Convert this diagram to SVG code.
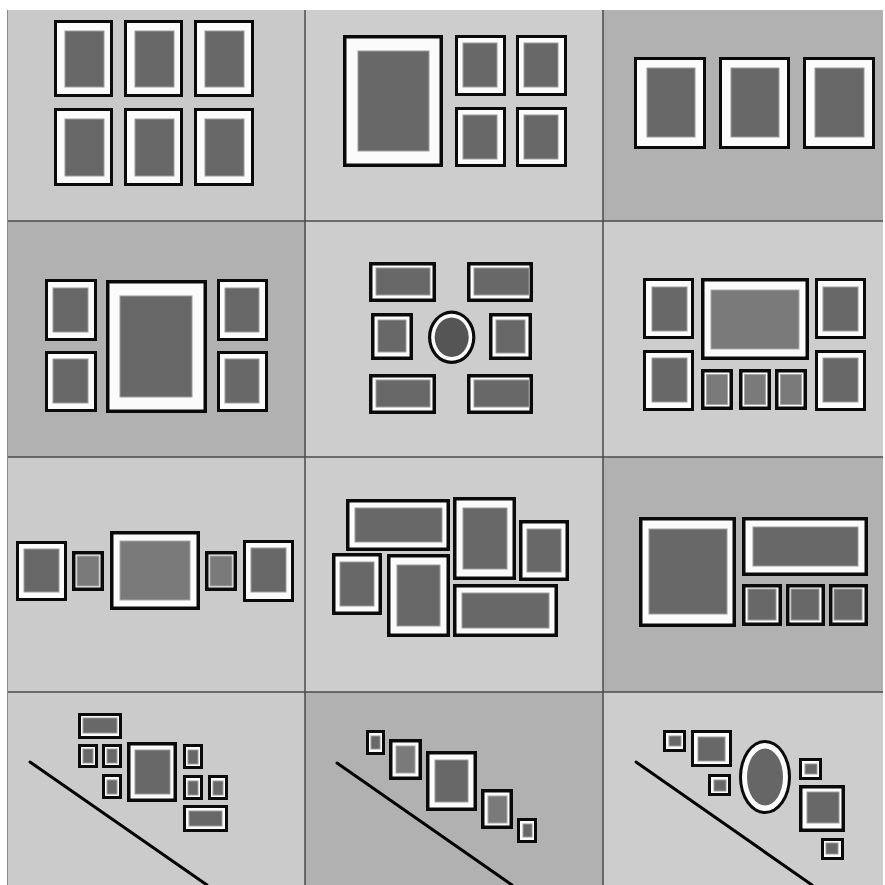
<svg xmlns="http://www.w3.org/2000/svg" width="885" height="885" viewBox="0 0 885 885">
<style>
.L{fill:#cbcbcb}.D{fill:#b1b1b1}
.k{fill:#0a0a0a}.w{fill:#fbfbfb}
.p{fill:#686868;stroke:#9c9c9c;stroke-width:1}
.q{fill:#7a7a7a;stroke:#a8a8a8;stroke-width:1}
.g{stroke:#4a4a4a;stroke-width:1.5;fill:none}
.wall{stroke:#000;stroke-width:3;fill:none;stroke-linecap:round}
</style>
<rect width="885" height="885" fill="#ffffff"/>
<g id="panels">
<rect class="L" x="7" y="10" width="298" height="211" style="fill:#c9c9c9"/>
<rect class="L" x="305" y="10" width="298" height="211" style="fill:#cdcdcd"/>
<rect class="D" x="603" y="10" width="280" height="211"/>
<rect class="D" x="7" y="221" width="298" height="236"/>
<rect class="L" x="305" y="221" width="298" height="236" style="fill:#cdcdcd"/>
<rect class="L" x="603" y="221" width="280" height="236" style="fill:#cdcdcd"/>
<rect class="L" x="7" y="457" width="298" height="235"/>
<rect class="L" x="305" y="457" width="298" height="235" style="fill:#cdcdcd"/>
<rect class="D" x="603" y="457" width="280" height="235"/>
<rect class="L" x="7" y="692" width="298" height="193"/>
<rect class="D" x="305" y="692" width="298" height="193"/>
<rect class="L" x="603" y="692" width="280" height="193" style="fill:#cdcdcd"/>
</g>
<g id="grid">
<line class="g" x1="305" y1="10" x2="305" y2="885"/>
<line class="g" x1="603" y1="10" x2="603" y2="885"/>
<line class="g" x1="7" y1="221" x2="883" y2="221"/>
<line class="g" x1="7" y1="457" x2="883" y2="457"/>
<line class="g" x1="7" y1="692" x2="883" y2="692"/>
<line x1="7.5" y1="10" x2="7.5" y2="885" stroke="#8a8a8a" stroke-width="1"/>
</g>
<g id="p1">
<g id="p1f1"><rect class="k" x="54" y="20" width="59" height="77"/><rect class="w" x="57" y="23" width="53" height="71"/><rect class="p" x="65" y="31" width="39" height="56"/></g>
<g id="p1f2"><rect class="k" x="124" y="20" width="59" height="77"/><rect class="w" x="127" y="23" width="53" height="71"/><rect class="p" x="135" y="31" width="39" height="56"/></g>
<g id="p1f3"><rect class="k" x="194" y="20" width="60" height="77"/><rect class="w" x="197" y="23" width="54" height="71"/><rect class="p" x="205" y="31" width="39" height="56"/></g>
<g id="p1f4"><rect class="k" x="54" y="108" width="59" height="78"/><rect class="w" x="57" y="111" width="53" height="72"/><rect class="p" x="65" y="119" width="39" height="57"/></g>
<g id="p1f5"><rect class="k" x="124" y="108" width="59" height="78"/><rect class="w" x="127" y="111" width="53" height="72"/><rect class="p" x="135" y="119" width="39" height="57"/></g>
<g id="p1f6"><rect class="k" x="194" y="108" width="60" height="78"/><rect class="w" x="197" y="111" width="54" height="72"/><rect class="p" x="205" y="119" width="39" height="57"/></g>
</g>
<g id="p2">
<g id="p2big"><rect class="k" x="343" y="35" width="100" height="132"/><rect class="w" x="346.5" y="38.5" width="93" height="125"/><rect class="p" x="358" y="51" width="71" height="100"/></g>
<g id="p2s1"><rect class="k" x="455" y="35" width="51" height="61"/><rect class="w" x="458" y="38" width="45" height="55"/><rect class="p" x="463" y="43" width="34" height="44"/></g>
<g id="p2s2"><rect class="k" x="516" y="35" width="51" height="61"/><rect class="w" x="519" y="38" width="45" height="55"/><rect class="p" x="524" y="43" width="34" height="44"/></g>
<g id="p2s3"><rect class="k" x="455" y="107" width="51" height="60"/><rect class="w" x="458" y="110" width="45" height="54"/><rect class="p" x="463" y="115" width="34" height="44"/></g>
<g id="p2s4"><rect class="k" x="516" y="107" width="51" height="60"/><rect class="w" x="519" y="110" width="45" height="54"/><rect class="p" x="524" y="115" width="34" height="44"/></g>
</g>
<g id="p3">
<g id="p3f1"><rect class="k" x="634" y="57" width="72" height="92"/><rect class="w" x="637" y="60" width="66" height="86"/><rect class="p" x="647" y="68" width="48" height="69"/></g>
<g id="p3f2"><rect class="k" x="719" y="57" width="71" height="92"/><rect class="w" x="722" y="60" width="65" height="86"/><rect class="p" x="731" y="68" width="48" height="69"/></g>
<g id="p3f3"><rect class="k" x="803" y="57" width="72" height="92"/><rect class="w" x="806" y="60" width="66" height="86"/><rect class="p" x="815" y="68" width="49" height="69"/></g>
</g>
<g id="p4">
<g id="p4tl"><rect class="k" x="45" y="279" width="52" height="62"/><rect class="w" x="48" y="282" width="46" height="56"/><rect class="p" x="53" y="288" width="35" height="44"/></g>
<g id="p4bl"><rect class="k" x="45" y="351" width="52" height="61"/><rect class="w" x="48" y="354" width="46" height="55"/><rect class="p" x="53" y="359" width="35" height="44"/></g>
<g id="p4big"><rect class="k" x="106" y="280" width="101" height="133"/><rect class="w" x="109.5" y="283.5" width="94" height="126"/><rect class="p" x="120" y="296" width="72" height="101"/></g>
<g id="p4tr"><rect class="k" x="217" y="279" width="51" height="62"/><rect class="w" x="220" y="282" width="45" height="56"/><rect class="p" x="225" y="288" width="34" height="44"/></g>
<g id="p4br"><rect class="k" x="217" y="351" width="51" height="61"/><rect class="w" x="220" y="354" width="45" height="55"/><rect class="p" x="225" y="359" width="34" height="44"/></g>
</g>
<g id="p5">
<g id="p5tl"><rect class="k" x="369" y="262" width="67" height="40"/><rect class="w" x="372.5" y="265.5" width="60" height="33"/><rect class="p" x="376" y="268" width="54" height="27"/></g>
<g id="p5tr"><rect class="k" x="467" y="262" width="66" height="40"/><rect class="w" x="470.5" y="265.5" width="59" height="33"/><rect class="p" x="474" y="268" width="55" height="27"/></g>
<g id="p5ml"><rect class="k" x="371" y="313" width="42" height="47"/><rect class="w" x="374.5" y="316.5" width="35" height="40"/><rect class="p" x="378" y="320" width="28" height="32"/></g>
<g id="p5oval"><ellipse cx="451.7" cy="337.3" rx="23.7" ry="26.7" fill="#0a0a0a"/><ellipse cx="451.7" cy="337.3" rx="20.5" ry="23.5" fill="#fbfbfb"/><ellipse cx="451.7" cy="337.3" rx="17" ry="19.7" fill="#555"/></g>
<g id="p5mr"><rect class="k" x="489" y="313" width="43" height="47"/><rect class="w" x="492.5" y="316.5" width="36" height="40"/><rect class="p" x="496" y="320" width="29" height="33"/></g>
<g id="p5bl"><rect class="k" x="369" y="374" width="67" height="40"/><rect class="w" x="372.5" y="377.5" width="60" height="33"/><rect class="p" x="376" y="380" width="54" height="27"/></g>
<g id="p5br"><rect class="k" x="467" y="374" width="66" height="40"/><rect class="w" x="470.5" y="377.5" width="59" height="33"/><rect class="p" x="474" y="380" width="55" height="27"/></g>
</g>
<g id="p6">
<g id="p6tl"><rect class="k" x="643" y="278" width="51" height="61"/><rect class="w" x="646" y="281" width="45" height="55"/><rect class="p" x="652" y="287" width="35" height="44"/></g>
<g id="p6big"><rect class="k" x="701" y="278" width="108" height="82"/><rect class="w" x="704.5" y="281.5" width="101" height="75"/><rect class="q" x="711" y="290" width="88" height="59"/></g>
<g id="p6tr"><rect class="k" x="815" y="278" width="51" height="61"/><rect class="w" x="818" y="281" width="45" height="55"/><rect class="p" x="823" y="287" width="35" height="44"/></g>
<g id="p6bl"><rect class="k" x="643" y="350" width="51" height="61"/><rect class="w" x="646" y="353" width="45" height="55"/><rect class="p" x="652" y="358" width="35" height="44"/></g>
<g id="p6s1"><rect class="k" x="701" y="369" width="32" height="41"/><rect class="w" x="704.5" y="372.5" width="25" height="34"/><rect class="q" x="706.5" y="374.5" width="21" height="30"/></g>
<g id="p6s2"><rect class="k" x="739" y="369" width="32" height="41"/><rect class="w" x="742.5" y="372.5" width="25" height="34"/><rect class="q" x="744.5" y="374.5" width="21" height="30"/></g>
<g id="p6s3"><rect class="k" x="775" y="369" width="32" height="41"/><rect class="w" x="778.5" y="372.5" width="25" height="34"/><rect class="q" x="780.5" y="374.5" width="21" height="30"/></g>
<g id="p6br"><rect class="k" x="815" y="350" width="51" height="61"/><rect class="w" x="818" y="353" width="45" height="55"/><rect class="p" x="823" y="358" width="35" height="44"/></g>
</g>
<g id="p7">
<g id="p7f1"><rect class="k" x="16" y="541" width="51" height="60"/><rect class="w" x="19" y="544" width="45" height="54"/><rect class="p" x="24" y="549" width="35" height="43"/></g>
<g id="p7f2"><rect class="k" x="72" y="551" width="32" height="40"/><rect class="w" x="75.5" y="554.5" width="25" height="33"/><rect class="q" x="77" y="556" width="22" height="30"/></g>
<g id="p7big"><rect class="k" x="110" y="531" width="90" height="79"/><rect class="w" x="113.5" y="534.5" width="83" height="72"/><rect class="q" x="120" y="541" width="70" height="59"/></g>
<g id="p7f4"><rect class="k" x="205" y="551" width="32" height="40"/><rect class="w" x="208.5" y="554.5" width="25" height="33"/><rect class="q" x="210" y="556" width="22" height="30"/></g>
<g id="p7f5"><rect class="k" x="243" y="540" width="51" height="62"/><rect class="w" x="246" y="543" width="45" height="56"/><rect class="p" x="251" y="548" width="35" height="44"/></g>
</g>
<g id="p8">
<g id="p8a"><rect class="k" x="346" y="499" width="104" height="52"/><rect class="w" x="349.5" y="502.5" width="97" height="45"/><rect class="p" x="355" y="508" width="87" height="34"/></g>
<g id="p8b"><rect class="k" x="453" y="497" width="63" height="83"/><rect class="w" x="456.5" y="500.5" width="56" height="76"/><rect class="p" x="463" y="508" width="44" height="61"/></g>
<g id="p8c"><rect class="k" x="519" y="520" width="50" height="61"/><rect class="w" x="522.5" y="523.5" width="43" height="54"/><rect class="p" x="527" y="529" width="34" height="43"/></g>
<g id="p8d"><rect class="k" x="332" y="553" width="50" height="62"/><rect class="w" x="335.5" y="556.5" width="43" height="55"/><rect class="p" x="340" y="562" width="34" height="44"/></g>
<g id="p8e"><rect class="k" x="387" y="554" width="63" height="83"/><rect class="w" x="390.5" y="557.5" width="56" height="76"/><rect class="p" x="397" y="565" width="43" height="61"/></g>
<g id="p8f"><rect class="k" x="453" y="584" width="105" height="53"/><rect class="w" x="456.5" y="587.5" width="98" height="46"/><rect class="p" x="462" y="593" width="87" height="35"/></g>
</g>
<g id="p9">
<g id="p9big"><rect class="k" x="639" y="517" width="97" height="110"/><rect class="w" x="642.5" y="520.5" width="90" height="103"/><rect class="p" x="649" y="529" width="78" height="85"/></g>
<g id="p9wide"><rect class="k" x="742" y="517" width="126" height="59"/><rect class="w" x="745.5" y="520.5" width="119" height="52"/><rect class="p" x="753" y="527" width="105" height="39"/></g>
<g id="p9s1"><rect class="k" x="742" y="584" width="40" height="42"/><rect class="w" x="745.5" y="587.5" width="33" height="35"/><rect class="p" x="748" y="589" width="28" height="31"/></g>
<g id="p9s2"><rect class="k" x="786" y="584" width="39" height="42"/><rect class="w" x="789.5" y="587.5" width="32" height="35"/><rect class="p" x="791" y="589" width="28" height="31"/></g>
<g id="p9s3"><rect class="k" x="829" y="584" width="39" height="42"/><rect class="w" x="832.5" y="587.5" width="32" height="35"/><rect class="p" x="834" y="589" width="28" height="31"/></g>
</g>
<g id="p10">
<line class="wall" x1="30" y1="762" x2="207" y2="885"/>
<g id="p10a"><rect class="k" x="78" y="713" width="44" height="26"/><rect class="w" x="81" y="716" width="38" height="20"/><rect class="p" x="83" y="718" width="34" height="15"/></g>
<g id="p10b"><rect class="k" x="78" y="744" width="20" height="24"/><rect class="w" x="81" y="747" width="14" height="18"/><rect class="p" x="83" y="749" width="10" height="14"/></g>
<g id="p10c"><rect class="k" x="102" y="744" width="20" height="24"/><rect class="w" x="105" y="747" width="14" height="18"/><rect class="p" x="107" y="749" width="10" height="14"/></g>
<g id="p10d"><rect class="k" x="102" y="774" width="20" height="25"/><rect class="w" x="105" y="777" width="14" height="19"/><rect class="p" x="107" y="780" width="10" height="14"/></g>
<g id="p10big"><rect class="k" x="127" y="742" width="50" height="60"/><rect class="w" x="130.5" y="745.5" width="43" height="53"/><rect class="p" x="135" y="750" width="35" height="44"/></g>
<g id="p10e"><rect class="k" x="183" y="744" width="20" height="25"/><rect class="w" x="186" y="747" width="14" height="19"/><rect class="p" x="188" y="750" width="10" height="14"/></g>
<g id="p10f"><rect class="k" x="183" y="775" width="20" height="25"/><rect class="w" x="186" y="778" width="14" height="19"/><rect class="p" x="188" y="781" width="10" height="14"/></g>
<g id="p10g"><rect class="k" x="208" y="775" width="20" height="25"/><rect class="w" x="211" y="778" width="14" height="19"/><rect class="p" x="213" y="781" width="10" height="14"/></g>
<g id="p10h"><rect class="k" x="183" y="805" width="45" height="27"/><rect class="w" x="186" y="808" width="39" height="21"/><rect class="p" x="189" y="811" width="33" height="15"/></g>
</g>
<g id="p11">
<line class="wall" x1="337" y1="763" x2="512" y2="885"/>
<g id="p11a"><rect class="k" x="366" y="730" width="19" height="25"/><rect class="w" x="369" y="733" width="13" height="19"/><rect class="p" x="371" y="736" width="9" height="13"/></g>
<g id="p11b"><rect class="k" x="389" y="739" width="33" height="41"/><rect class="w" x="392.5" y="742.5" width="26" height="34"/><rect class="q" x="396" y="746" width="19" height="27"/></g>
<g id="p11c"><rect class="k" x="426" y="751" width="51" height="60"/><rect class="w" x="429.5" y="754.5" width="44" height="53"/><rect class="p" x="435" y="760" width="33" height="42"/></g>
<g id="p11d"><rect class="k" x="481" y="789" width="32" height="40"/><rect class="w" x="484.5" y="792.5" width="25" height="33"/><rect class="q" x="488" y="796" width="19" height="27"/></g>
<g id="p11e"><rect class="k" x="517" y="818" width="20" height="25"/><rect class="w" x="520" y="821" width="14" height="19"/><rect class="p" x="523" y="824" width="9" height="13"/></g>
</g>
<g id="p12">
<line class="wall" x1="636" y1="762" x2="812" y2="885"/>
<g id="p12a"><rect class="k" x="663" y="730" width="23" height="22"/><rect class="w" x="666" y="733" width="17" height="16"/><rect class="p" x="669" y="736" width="12" height="10"/></g>
<g id="p12b"><rect class="k" x="691" y="730" width="41" height="37"/><rect class="w" x="694" y="733" width="35" height="31"/><rect class="p" x="698" y="737" width="27" height="24"/></g>
<g id="p12c"><rect class="k" x="708" y="774" width="23" height="22"/><rect class="w" x="711" y="777" width="17" height="16"/><rect class="p" x="714" y="780" width="12" height="11"/></g>
<g id="p12oval"><ellipse cx="765" cy="777" rx="26" ry="37" fill="#0a0a0a"/><ellipse cx="765" cy="777" rx="23" ry="34" fill="#fbfbfb"/><ellipse cx="765" cy="777" rx="18" ry="28.5" fill="#666"/></g>
<g id="p12d"><rect class="k" x="799" y="758" width="23" height="22"/><rect class="w" x="802" y="761" width="17" height="16"/><rect class="p" x="805" y="764" width="12" height="10"/></g>
<g id="p12e"><rect class="k" x="799" y="785" width="46" height="47"/><rect class="w" x="802.5" y="788.5" width="39" height="40"/><rect class="p" x="807" y="792" width="32" height="31"/></g>
<g id="p12f"><rect class="k" x="821" y="838" width="23" height="22"/><rect class="w" x="824" y="841" width="17" height="16"/><rect class="p" x="826" y="843" width="12" height="11"/></g>
</g>
</svg>
